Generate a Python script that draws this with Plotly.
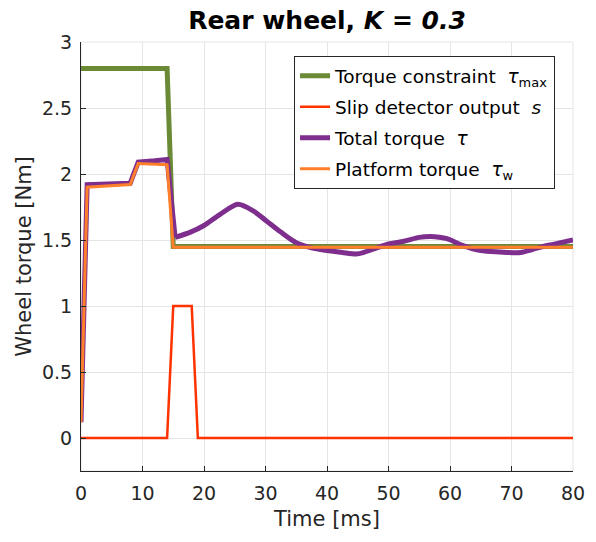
import plotly.graph_objects as go

# Data
t_max = [0, 14, 15, 80]
tau_max = [2.8, 2.8, 1.45, 1.45]

t_slip = [0, 14, 15, 18, 19, 80]
slip = [0, 0, 1, 1, 0, 0]

# total torque: step-like start, then smooth oscillation
t_total_start = [0, 1, 8, 9.3, 12, 14, 15.3]
tau_total_start = [0.12, 1.92, 1.93, 2.09, 2.1, 2.11, 1.52]
t_total = [15.3, 17.8, 20, 22.5, 25.5, 28, 30, 32.5, 35, 37.5,
           40, 42.5, 45, 47.5, 50, 52.5, 55, 57.5, 59.5, 62, 65, 68, 71.5, 73.5, 76, 78, 80]
tau_total = [1.52, 1.56, 1.61, 1.69, 1.77, 1.72, 1.65, 1.56, 1.48, 1.44,
             1.42, 1.405, 1.395, 1.43, 1.47, 1.49, 1.52, 1.525, 1.51, 1.46, 1.42, 1.41, 1.405, 1.43, 1.46, 1.48, 1.5]

t_plat = [0, 1, 8, 9.3, 14, 15, 80]
tau_plat = [0.12, 1.9, 1.92, 2.08, 2.07, 1.445, 1.445]

x_ticks = [0, 10, 20, 30, 40, 50, 60, 70, 80]
y_ticks = [0, 0.5, 1, 1.5, 2, 2.5, 3]
y_labels = ["0", "0.5", "1", "1.5", "2", "2.5", "3"]

FONT = "DejaVu Sans, Liberation Sans, Arial, sans-serif"
PURPLE = "#7e2f8e"

fig = go.Figure()
fig.add_trace(go.Scatter(x=t_max, y=tau_max, mode="lines", legendgroup="a",
                         line=dict(color="#6a8a36", width=5),
                         name="Torque constraint  <i>τ</i><sub>max</sub>"))
fig.add_trace(go.Scatter(x=t_slip, y=slip, mode="lines", legendgroup="b",
                         line=dict(color="#ff3300", width=2.5),
                         name="Slip detector output  <i>s</i>"))
fig.add_trace(go.Scatter(x=t_total_start, y=tau_total_start, mode="lines", legendgroup="c",
                         line=dict(color=PURPLE, width=5),
                         name="Total torque  <i>τ</i>"))
fig.add_trace(go.Scatter(x=t_total, y=tau_total, mode="lines", legendgroup="c", showlegend=False,
                         line=dict(color=PURPLE, width=5, shape="spline", smoothing=0.8),
                         name="Total torque  <i>τ</i>"))
fig.add_trace(go.Scatter(x=t_plat, y=tau_plat, mode="lines", legendgroup="d",
                         line=dict(color="#ff7f2a", width=3),
                         name="Platform torque  <i>τ</i><sub>w</sub>"))

fig.update_layout(
    width=596, height=542,
    margin=dict(l=81, r=23, t=42, b=71),
    paper_bgcolor="white", plot_bgcolor="white",
    font=dict(family=FONT, size=19, color="#262626"),
    title=dict(text="<b>Rear wheel, <i>K = 0.3</i></b>", x=0.5, xref="paper",
               y=1 - 20 / 542, yref="container", yanchor="middle",
               font=dict(size=25, color="black", family=FONT)),
    showlegend=True,
    legend=dict(x=0.433, y=0.967, xanchor="left", yanchor="top",
                bgcolor="white", bordercolor="#262626", borderwidth=1,
                font=dict(size=18.5, color="black", family=FONT),
                tracegroupgap=4, itemwidth=30),
)
fig.update_xaxes(range=[0, 80], tickvals=x_ticks, showgrid=True, gridcolor="#e5e5e5",
                 showline=True, linecolor="#262626", linewidth=1, mirror=False,
                 ticks="inside", ticklen=5, tickcolor="#262626", zeroline=False,
                 ticklabelstandoff=5,
                 title=dict(text="Time [ms]", font=dict(size=21), standoff=8),
                 tickfont=dict(size=19))
fig.update_yaxes(range=[-0.25, 3], tickvals=y_ticks, ticktext=y_labels,
                 showgrid=True, gridcolor="#e5e5e5",
                 showline=True, linecolor="#262626", linewidth=1, mirror=False,
                 ticks="inside", ticklen=5, tickcolor="#262626", zeroline=False,
                 ticklabelstandoff=4,
                 title=dict(text="Wheel torque [Nm]", font=dict(size=21), standoff=4),
                 tickfont=dict(size=19))
# light right/top border like the reference
fig.add_shape(type="rect", xref="paper", yref="paper", x0=0, y0=0, x1=1, y1=1,
              line=dict(color="#e5e5e5", width=1), layer="below")

fig.write_html("out.html")
